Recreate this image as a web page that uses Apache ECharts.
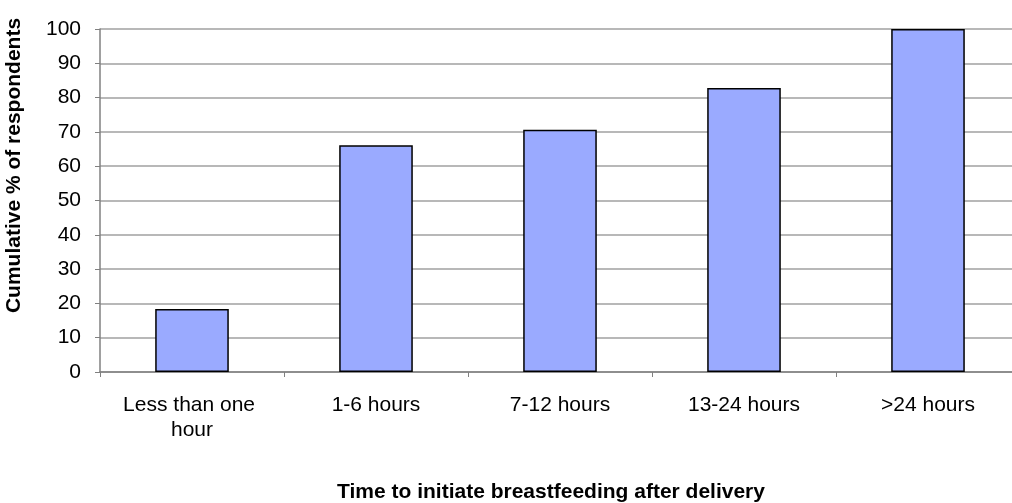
<!DOCTYPE html>
<html style="height: 100%">
<head>
    <meta charset="utf-8">
</head>
<body style="height: 100%; margin: 0; background: #fff">
<div id="container" style="width: 1012px; height: 503px"></div>
<script type="text/javascript" src="https://cdn.jsdelivr.net/npm/echarts@6/dist/echarts.min.js"></script>
<script type="text/javascript">
var categories = ['Less than one hour', '1-6 hours', '7-12 hours', '13-24 hours', '>24 hours'];
var cumulative = [18.4, 66.1, 70.6, 82.8, 100];
var yTicks = [0, 100, 10]; // min, max, step

var myChart = echarts.init(document.getElementById('container'));

var font = 'Liberation Sans, Arial, sans-serif';

var option = {
    animation: false,
    grid: {
        left: 100,
        right: -8,
        top: 29,
        bottom: 131,
        outerBoundsMode: 'none'
    },
    xAxis: {
        type: 'category',
        data: categories,
        name: 'Time to initiate breastfeeding after delivery',
        nameLocation: 'middle',
        nameGap: 110,
        nameTextStyle: {
            fontFamily: font,
            fontWeight: 'bold',
            fontSize: 21,
            color: '#000',
            padding: [0, 18, 0, 0]
        },
        axisLine: { lineStyle: { color: '#808080', width: 1.5 } },
        axisTick: { show: true, length: 5, lineStyle: { color: '#808080' } },
        axisLabel: {
            interval: 0,
            margin: 21,
            width: 165,
            overflow: 'break',
            lineHeight: 25,
            fontFamily: font,
            fontSize: 21,
            color: '#000'
        }
    },
    yAxis: {
        type: 'value',
        min: yTicks[0],
        max: yTicks[1],
        interval: yTicks[2],
        name: 'Cumulative % of respondents',
        nameLocation: 'middle',
        nameRotate: 90,
        nameGap: 75,
        nameTextStyle: {
            fontFamily: font,
            fontWeight: 'bold',
            fontSize: 21,
            color: '#000',
            padding: [0, 0, 0, 70]
        },
        axisLine: { show: true, lineStyle: { color: '#808080', width: 1.5 } },
        axisTick: { show: true, length: 5, lineStyle: { color: '#808080' } },
        axisLabel: {
            margin: 19,
            fontFamily: font,
            fontSize: 21,
            color: '#000'
        },
        splitLine: { lineStyle: { color: '#a0a0a0', width: 1.5 } }
    },
    series: [{
        type: 'bar',
        data: cumulative,
        barWidth: '40%',
        itemStyle: {
            color: '#9aaaff',
            borderColor: '#000',
            borderWidth: 1.5
        }
    }]
};

myChart.setOption(option);
</script>
</body>
</html>
